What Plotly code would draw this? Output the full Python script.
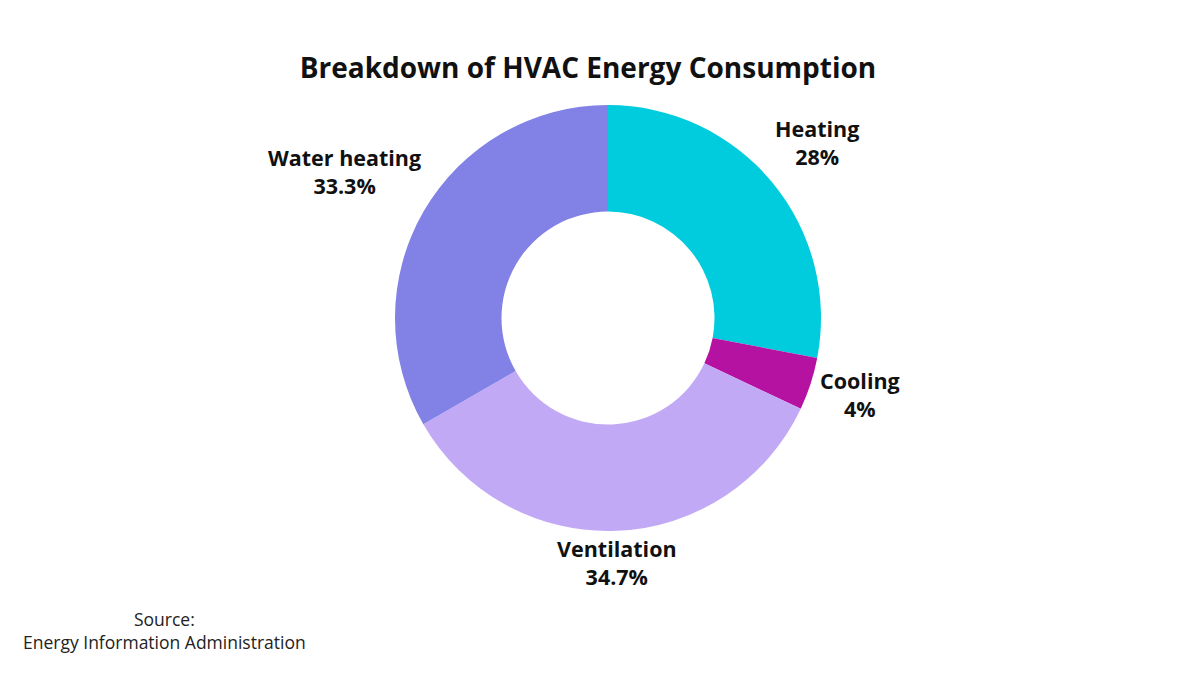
import math
import plotly.graph_objects as go

# slice data, clockwise from 12 o'clock
categories = ['Heating', 'Cooling', 'Ventilation', 'Water heating']
shares = [28, 4, 34.7, 33.3]
share_text = ['28%', '4%', '34.7%', '33.3%']
colors = ['#00CCDD', '#B612A2', '#C2A9F5', '#8181E6']

W, H = 1200, 675
# page body has an 8px margin, so paper coords are offset from the screen
cx, cy = 0.5, 0.5407          # donut centre (paper)
R = 213                       # outer radius in px
label_r = 214                 # where the label box starts, px from centre

fig = go.Figure()
fig.add_trace(go.Pie(
    labels=categories,
    values=shares,
    textinfo='none',
    hole=0.5,
    sort=False,
    direction='clockwise',
    rotation=0,
    marker=dict(colors=colors, line=dict(width=0)),
    domain=dict(x=[cx - R / W, cx + R / W], y=[cy - R / H, cy + R / H]),
    showlegend=False,
    hoverinfo='label+percent',
))

# outside labels placed along each slice's middle angle
annos = []
cum = 0
total = sum(shares)
for name, v, t in zip(categories, shares, share_text):
    ang = math.radians(360 * (cum + v / 2) / total)
    cum += v
    s, c = math.sin(ang), math.cos(ang)
    xa = 'left' if s > 0.35 else ('right' if s < -0.35 else 'center')
    ya = 'bottom' if c > 0.35 else ('top' if c < -0.35 else 'middle')
    dx = 6 if ya == 'middle' else 0
    dy = 9 if ya == 'bottom' else (-10 if ya == 'middle' else 0)
    annos.append(dict(
        text='<b>%s<br>%s</b>' % (name, t),
        x=cx + label_r * s / W, y=cy + label_r * c / H,
        xref='paper', yref='paper', xanchor=xa, yanchor=ya,
        xshift=dx, yshift=dy,
        showarrow=False, align='center',
        font=dict(family='Open Sans', size=21.5, color='#111111'),
    ))

annos.append(dict(
    text='Source:<br>Energy Information Administration',
    x=0.13, y=0.0785, xref='paper', yref='paper',
    xanchor='center', yanchor='middle', showarrow=False, align='center',
    font=dict(family='Open Sans', size=17.5, color='#222222'),
))

fig.update_layout(
    width=W, height=H,
    margin=dict(l=0, r=0, t=0, b=0),
    paper_bgcolor='white',
    plot_bgcolor='white',
    title=dict(text='<b>Breakdown of HVAC Energy Consumption</b>',
               x=0.4833, xanchor='center', y=0.9111, yanchor='middle',
               font=dict(family='Open Sans', size=28, color='#111111')),
    annotations=annos,
)

fig.write_html('out.html')
